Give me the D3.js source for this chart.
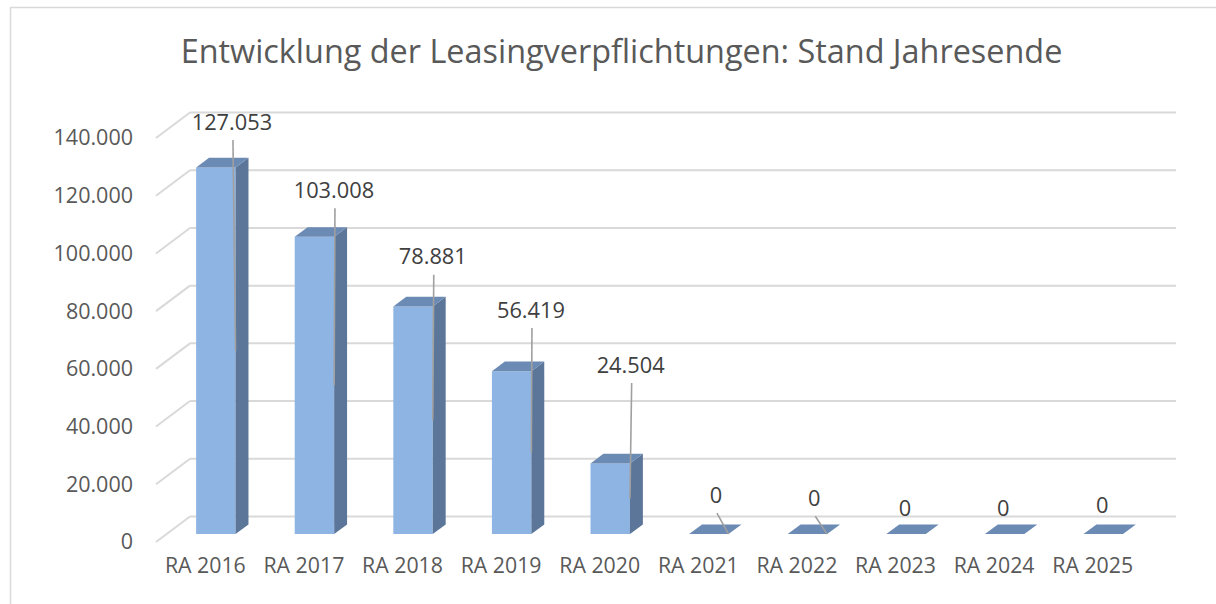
<!DOCTYPE html>
<html>
<head>
<meta charset="utf-8">
<script src="https://cdn.jsdelivr.net/npm/d3@7"></script>
<style>
  html, body { margin: 0; padding: 0; background: #ffffff; }
  svg { display: block; }
  text { font-family: "Open Sans", "Liberation Sans", sans-serif; }
</style>
</head>
<body>
<svg id="chart" width="1216" height="604"></svg>
<script>
// ---- data ----
const chartTitle = "Entwicklung der Leasingverpflichtungen: Stand Jahresende";
const categories = ["RA 2016", "RA 2017", "RA 2018", "RA 2019", "RA 2020", "RA 2021", "RA 2022", "RA 2023", "RA 2024", "RA 2025"];
const values = [127053, 103008, 78881, 56419, 24504, 0, 0, 0, 0, 0];
const yTicks = [0, 20000, 40000, 60000, 80000, 100000, 120000, 140000];

// ---- layout (label nudges relative to bar's front-top-right corner) ----
const labelNudge = [[-3.6, -45.5], [-0.2, -46.5], [0, -49.8], [-0.4, -61.3], [0.7, -98.4],
                    [-12.6, -39], [-12.9, -35.8], [-20.8, -25.8], [-21.1, -25.8], [-20.7, -28.4]];
const showLeader = [true, true, true, true, true, true, true, false, false, false];

const svg = d3.select("#chart");
const W = 1216, H = 604;

const deDE = d3.formatLocale({ decimal: ",", thousands: ".", grouping: [3], currency: ["", " €"] });
const fmt = deDE.format(",d");

// scales (front plane)
const x = d3.scaleBand().domain(categories).range([156, 1142]).paddingInner(0.6).paddingOuter(0.3);
const y = d3.scaleLinear().domain([0, 140000]).range([542, 138]);
const DX = 34, DY = 25.5;      // full depth offset
const z0 = 0.31, z1 = 0.69;    // bar depth span
const P = (px, v, z) => [px + z * DX, y(v) - z * DY];

// chart border
svg.append("line").attr("x1", 10.5).attr("y1", 7.5).attr("x2", 10.5).attr("y2", H)
  .attr("stroke", "#d9d9d9").attr("stroke-width", 1.5);
svg.append("line").attr("x1", 10).attr("y1", 7.5).attr("x2", W).attr("y2", 7.5)
  .attr("stroke", "#d9d9d9").attr("stroke-width", 1.5);

// title
svg.append("text").attr("x", 621.5).attr("y", 62.5).attr("text-anchor", "middle")
  .attr("font-size", 32.4).attr("fill", "#595959").text(chartTitle);

// gridlines: back wall + side wall diagonals
const grid = svg.append("g").attr("stroke", "#d9d9d9").attr("stroke-width", 2).attr("fill", "none");
yTicks.forEach(t => {
  const [xl, yl] = P(x.range()[0], t, 0);
  const [xb, yb] = P(x.range()[0], t, 1);
  const [xr] = P(x.range()[1], t, 1);
  grid.append("line").attr("x1", xl).attr("y1", yl).attr("x2", xb).attr("y2", yb);
  grid.append("line").attr("x1", xb).attr("y1", yb).attr("x2", xr).attr("y2", yb);
});

// y axis labels
const yAxis = d3.axisLeft(y).tickValues(yTicks).tickFormat(fmt).tickSize(0).tickPadding(0);
const yg = svg.append("g").attr("transform", "translate(133,0)").call(yAxis);
yg.select(".domain").remove();
yg.selectAll("text").attr("font-size", 21.5).attr("fill", "#595959")
  .attr("font-family", "Open Sans, Liberation Sans, sans-serif");

// x axis labels
const xAxis = d3.axisBottom(x).tickSize(0).tickPadding(0);
const xg = svg.append("g").attr("transform", "translate(0,558)").call(xAxis);
xg.select(".domain").remove();
xg.selectAll("text").attr("font-size", 21.3).attr("fill", "#595959")
  .attr("font-family", "Open Sans, Liberation Sans, sans-serif");

// bars
const poly = pts => pts.map(p => p.join(",")).join(" ");
const bars = svg.append("g");
categories.forEach((c, i) => {
  const v = values[i];
  const x0 = x(c), x1 = x(c) + x.bandwidth();
  const g = bars.append("g");
  if (v > 0) {
    g.append("polygon").attr("points", poly([P(x0, 0, z0), P(x1, 0, z0), P(x1, v, z0), P(x0, v, z0)]))
      .attr("fill", "#8db4e2");
    g.append("polygon").attr("points", poly([P(x1, 0, z0), P(x1, 0, z1), P(x1, v, z1), P(x1, v, z0)]))
      .attr("fill", "#5b7698");
  }
  g.append("polygon").attr("points", poly([P(x0, v, z0), P(x1, v, z0), P(x1, v, z1), P(x0, v, z1)]))
    .attr("fill", "#6b8ab4");
});

// leader lines + labels
const labels = svg.append("g");
categories.forEach((c, i) => {
  const v = values[i];
  const x1 = x(c) + x.bandwidth();
  const [fx, fy] = P(x1, v, z0);
  const [, by] = P(x1, 0, z0);
  const lx = fx + labelNudge[i][0], ly = fy + labelNudge[i][1];
  if (showLeader[i]) {
    labels.append("line").attr("x1", lx + 1).attr("y1", ly + 18).attr("x2", fx).attr("y2", (fy + by) / 2)
      .attr("stroke", "#a0a0a0").attr("stroke-width", 1.6);
  }
  labels.append("text").attr("x", lx).attr("y", ly).attr("dy", "0.35em").attr("text-anchor", "middle")
    .attr("font-size", 21.8).attr("fill", "#404040").text(fmt(v));
});
</script>
</body>
</html>
